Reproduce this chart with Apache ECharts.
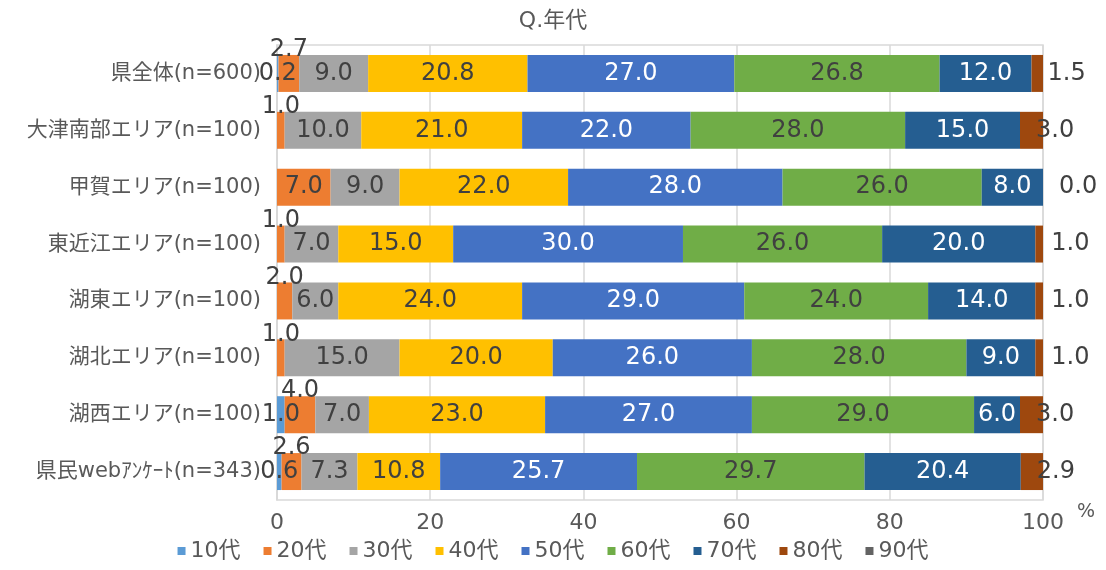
<!DOCTYPE html>
<html>
<head>
<meta charset="utf-8">
<script src="https://cdn.jsdelivr.net/npm/echarts@6/dist/echarts.min.js"></script>
<style>
  html, body { margin: 0; padding: 0; background: #fff; }
  #main { width: 1106px; height: 570px; }
</style>
</head>
<body>
<div id="main"></div>
<script>
// 地域カテゴリ
const categories = ['県全体(n=600)', '大津南部エリア(n=100)', '甲賀エリア(n=100)', '東近江エリア(n=100)',
  '湖東エリア(n=100)', '湖北エリア(n=100)', '湖西エリア(n=100)', '県民webｱﾝｹｰﾄ(n=343)']
const ageNames = ['10代', '20代', '30代', '40代', '50代', '60代', '70代', '80代', '90代']

// 年代別の割合（%）
const s10 = [0.2, 0, 0, 0, 0, 0, 1.0, 0.6]
const s20 = [2.7, 1.0, 7.0, 1.0, 2.0, 1.0, 4.0, 2.6]
const s30 = [9.0, 10.0, 9.0, 7.0, 6.0, 15.0, 7.0, 7.3]
const s40 = [20.8, 21.0, 22.0, 15.0, 24.0, 20.0, 23.0, 10.8]
const s50 = [27.0, 22.0, 28.0, 30.0, 29.0, 26.0, 27.0, 25.7]
const s60 = [26.8, 28.0, 26.0, 26.0, 24.0, 28.0, 29.0, 29.7]
const s70 = [12.0, 15.0, 8.0, 20.0, 14.0, 9.0, 6.0, 20.4]
const s80 = [1.5, 3.0, 0.0, 1.0, 1.0, 1.0, 3.0, 2.9]
const s90 = [0, 0, 0, 0, 0, 0, 0, 0]

const xTicks = [0, 20, 40, 60, 80, 100]

const colors = ['#5B9BD5', '#ED7D31', '#A5A5A5', '#FFC000', '#4472C4', '#70AD47', '#255E91', '#9E480E', '#636363']
const textColor = '#595959'
const font = '"DejaVu Sans", "Noto Sans CJK JP", sans-serif'

const myChart = echarts.init(document.querySelector('#main'))

function fmt(p) {
  return Number(p.value).toFixed(1)
}

//系列ごとのラベル設定
function makeData(arr, idx) {
  return arr.map(v => {
    const item = { value: v }
    if (idx === 0) {
      item.label = { show: v > 0 }
    } else if (idx === 1 && v < 5) {
      item.label = { show: true, position: 'top', distance: -7 }
    } else if (idx === 7) {
      item.label = { show: true, position: [16, '50%'], align: 'left', verticalAlign: 'middle' }
    } else if (idx === 8) {
      item.label = { show: false }
    }
    return item
  })
}

const allData = [s10, s20, s30, s40, s50, s60, s70, s80, s90]

const option = {
  animation: false,
  textStyle: { fontFamily: font },
  title: {
    text: 'Q.年代',
    left: 'center',
    top: 5,
    textStyle: { fontFamily: font, fontSize: 22, fontWeight: 'normal', color: textColor }
  },
  legend: {
    bottom: 3,
    left: 'center',
    icon: 'rect',
    itemWidth: 8,
    itemHeight: 8,
    itemGap: 23,
    textStyle: { fontFamily: font, fontSize: 22, color: textColor },
    data: ageNames
  },
  grid: {
    left: 277,
    right: 63,
    top: 45,
    bottom: 70,
    show: true,
    borderColor: '#d9d9d9',
    borderWidth: 1.5
  },
  xAxis: {
    type: 'value',
    min: 0,
    max: 100,
    interval: 20,
    name: '%',
    nameLocation: 'end',
    nameGap: 34,
    nameTextStyle: { fontFamily: font, fontSize: 19, color: textColor, verticalAlign: 'top', align: 'left', padding: [3, 0, 0, 0] },
    axisLine: { show: false },
    axisTick: { show: false },
    axisLabel: {
      fontFamily: font, fontSize: 22, color: textColor, margin: 12,
      formatter: v => xTicks.includes(v) ? String(v) : ''
    },
    splitLine: { show: true, lineStyle: { color: '#d9d9d9', width: 1.5 } }
  },
  yAxis: {
    type: 'category',
    inverse: true,
    data: categories,
    axisLine: { show: true, lineStyle: { color: '#d9d9d9', width: 1.5 } },
    axisTick: { show: false },
    axisLabel: { fontFamily: font, fontSize: 21, color: textColor, margin: 16 }
  },
  color: colors,
  series: allData.map((arr, i) => ({
    name: ageNames[i],
    type: 'bar',
    stack: 'total',
    barWidth: '65%',
    label: {
      show: true,
      position: 'inside',
      fontFamily: font,
      fontSize: 24,
      color: (i === 4 || i === 6) ? '#ffffff' : '#404040',
      formatter: fmt
    },
    data: makeData(arr, i)
  }))
}

myChart.setOption(option)
window.addEventListener('resize', function () {
  myChart.resize()
})
</script>
</body>
</html>
